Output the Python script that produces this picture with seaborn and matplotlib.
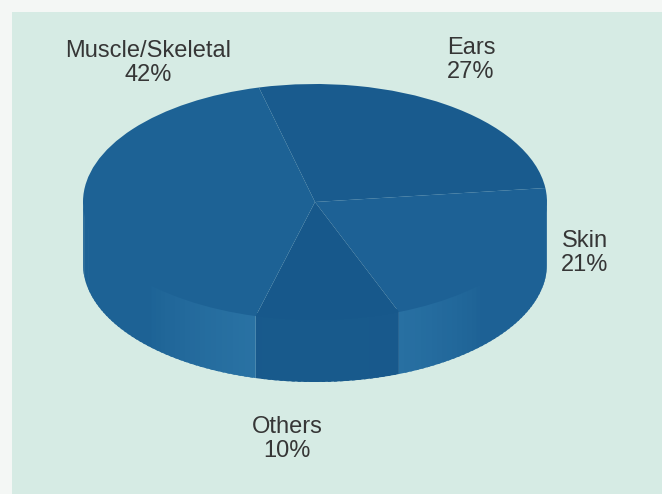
import numpy as np
import matplotlib
matplotlib.use("Agg")
import matplotlib.pyplot as plt
from matplotlib.colors import to_rgb
from matplotlib.patches import Polygon, Rectangle
import seaborn as sns

# Share of cases by category (clockwise from the top)
categories = ["Ears", "Skin", "Others", "Muscle/Skeletal"]
shares = [27, 21, 10, 42]
pct_labels = ["27%", "21%", "10%", "42%"]

sns.set_theme(style="white")
plt.rcParams["font.family"] = ["Liberation Sans", "DejaVu Sans"]

top_colors = ["#195b8e", "#1d6195", "#17588b", "#1d6295"]
rim_light = ["#2d79aa", "#2f7aab", "#185a8c", "#2e78a9"]

W, H = 662, 494
fig = plt.figure(figsize=(W / 100, H / 100), dpi=100)
fig.patch.set_facecolor("#f4f7f5")

ax = fig.add_axes([0, 0, 1, 1])
ax.patch.set_alpha(0)

# Pixel geometry of the drum: centre of top face, semi-axes and depth
cx, cy, ax_px, by_px, depth_px = 315, 202, 232, 118, 62
depth = depth_px / by_px


def to_data(px, py):
    return (px - cx) / ax_px, (cy - py) / by_px


# Mint panel behind the chart
px0, py0 = to_data(12, H)
px1, py1 = to_data(W, 12)
ax.add_patch(Rectangle((px0, py0), px1 - px0, py1 - py0, facecolor="#d6ebe4",
                       edgecolor="none", zorder=0))

start = 104.0
spans = 360.0 * np.asarray(shares) / np.sum(shares)
bounds = start - np.concatenate([[0], np.cumsum(spans)])


def rim_shade(deg):
    """Light falls on the front of the rim and fades towards the sides."""
    return float(np.clip(1.0 - abs(deg + 90.0) / 46.0, 0.0, 1.0)) ** 0.8


# Front side wall of each slice (only the lower half of the rim shows),
# drawn in overlapping strips so the shading can vary along the rim.
# The strips reach slightly under the top face to hide the seam.
for i in range(len(shares)):
    hi, lo = bounds[i], bounds[i + 1]
    a, b = max(lo, -180.0), min(hi, 0.0)
    if a >= b:
        continue
    edges = np.linspace(a, b, max(2, int((b - a) / 1.5) + 1))
    base = np.array(to_rgb(top_colors[i]))
    light = np.array(to_rgb(rim_light[i]))
    for s0, s1 in zip(edges[:-1], edges[1:]):
        k = rim_shade(0.5 * (s0 + s1))
        col = base + (light - base) * k
        t = np.radians(np.linspace(s0, min(s1 + 0.8, b), 6))
        top = np.column_stack([np.cos(t), np.sin(t) + 0.03])
        bot = np.column_stack([np.cos(t[::-1]), np.sin(t[::-1]) - depth])
        ax.add_patch(Polygon(np.vstack([top, bot]), closed=True,
                             facecolor=col, edgecolor="none", zorder=1))

# Top face
wedges, _ = ax.pie(shares, startangle=start, counterclock=False,
                   colors=top_colors, radius=1, center=(0, 0),
                   wedgeprops=dict(linewidth=0), frame=False)
for w in wedges:
    w.set_zorder(2)

ax.set_aspect("auto")
x0, y0 = to_data(0, H)
x1, y1 = to_data(W, 0)
ax.set_xlim(x0, x1)
ax.set_ylim(y0, y1)
ax.axis("off")

label_pos = {"Ears": (471, 60), "Skin": (585, 253),
             "Others": (287, 439), "Muscle/Skeletal": (148, 63)}
for name, pct in zip(categories, pct_labels):
    px, py = label_pos[name]
    x, y = to_data(px, py)
    ax.text(x, y, f"{name}\n{pct}", ha="center", va="center", fontsize=17,
            color="#363636", linespacing=1.08, zorder=3)

fig.savefig("out.png", dpi=100, facecolor=fig.get_facecolor())
